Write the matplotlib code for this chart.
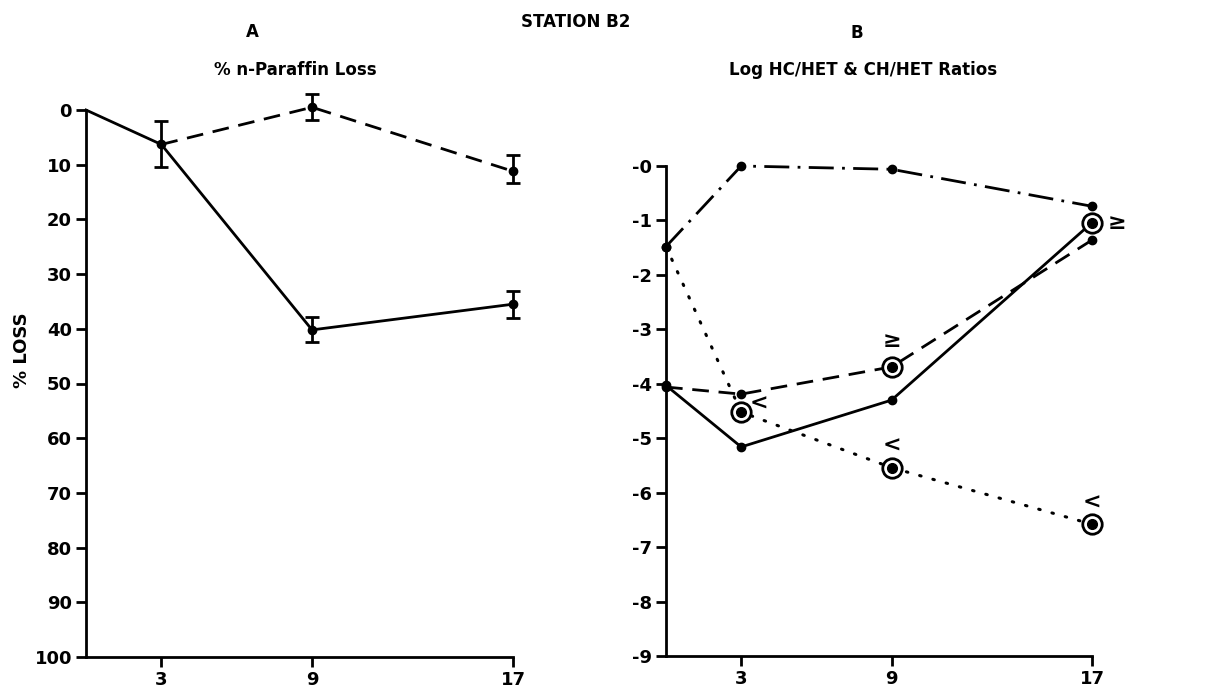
import matplotlib
matplotlib.use("Agg")
import matplotlib.pyplot as plt

# ---- Data ----
days = [0, 3, 9, 17]

# Panel A: % n-paraffin loss
a_solid_x = [0, 3, 9, 17]
a_solid_y = [0, 6.3, 40.2, 35.5]
a_solid_err_lo = [0, 0, 2.4, 2.5]
a_solid_err_hi = [0, 0, 2.2, 2.5]

a_dash_x = [3, 9, 17]
a_dash_y = [6.3, -0.5, 11.2]
a_dash_err_lo = [4.3, 2.5, 3.0]
a_dash_err_hi = [4.1, 2.3, 2.2]

# Panel B: log ratios
b_dashdot_x = [0, 3, 9, 17]
b_dashdot_y = [-1.48, 0.0, -0.06, -0.74]

b_dotted_x = [0, 3, 9, 17]
b_dotted_y = [-1.48, -4.52, -5.54, -6.58]

b_dashed_x = [0, 3, 9, 17]
b_dashed_y = [-4.06, -4.19, -3.69, -1.36]

b_solid_x = [0, 3, 9, 17]
b_solid_y = [-4.03, -5.16, -4.30, -1.04]

# circled points and their qualifiers
circ_x = [3, 9, 17, 9, 17]
circ_y = [-4.52, -5.54, -6.58, -3.69, -1.04]
qual_text = ["<", "<", "<", "≥", "≥"]
qual_dx = [0.7, 0.0, 0.0, 0.0, 1.0]
qual_dy = [0.15, 0.4, 0.4, 0.48, 0.0]

a_yticks = [0, 10, 20, 30, 40, 50, 60, 70, 80, 90, 100]
b_yticks = [0, -1, -2, -3, -4, -5, -6, -7, -8, -9]
b_yticklabels = ["-0", "-1", "-2", "-3", "-4", "-5", "-6", "-7", "-8", "-9"]
xticks = [3, 9, 17]

W, H = 1207, 694
fig = plt.figure(figsize=(W / 100, H / 100), dpi=100)
fs = 13
font = dict(family="DejaVu Sans", weight="bold")

def px_axes(x0, x1, ytop, ybot):
    return fig.add_axes([x0 / W, 1 - ybot / H, (x1 - x0) / W, (ybot - ytop) / H])

lw = 2.0
dash = (0, (6, 3.5))
dashdot = (0, (9, 3, 1, 3))

# ---------- Panel A ----------
ax1 = px_axes(86, 513, 110, 657)
ax1.plot(a_solid_x, a_solid_y, color="black", lw=lw, clip_on=False)
ax1.errorbar(a_solid_x[2:], a_solid_y[2:],
             yerr=[a_solid_err_lo[2:], a_solid_err_hi[2:]],
             fmt="o", ms=6, color="black", capsize=5, elinewidth=2, capthick=2, clip_on=False)
ax1.plot(a_dash_x, a_dash_y, color="black", lw=lw, linestyle=dash, clip_on=False)
ax1.errorbar(a_dash_x, a_dash_y, yerr=[a_dash_err_lo, a_dash_err_hi],
             fmt="o", ms=6, color="black", capsize=5, elinewidth=2, capthick=2, clip_on=False)
ax1.set_xlim(0, 17)
ax1.set_ylim(100, 0)
ax1.set_yticks(a_yticks)
ax1.set_yticklabels([str(v) for v in a_yticks], fontsize=fs, **font)
ax1.set_xticks(xticks)
ax1.set_xticklabels([str(v) for v in xticks], fontsize=fs, **font)

# ---------- Panel B ----------
ax2 = px_axes(666, 1092, 166, 656)
ax2.plot(b_dashdot_x, b_dashdot_y, color="black", lw=lw, linestyle=dashdot,
         marker="o", ms=6, clip_on=False)
ax2.plot(b_dotted_x, b_dotted_y, color="black", lw=2.2, linestyle=(0, (0.5, 4)),
         dash_capstyle="round", clip_on=False)
ax2.plot(b_dotted_x[:1], b_dotted_y[:1], "o", color="black", ms=6, clip_on=False)
ax2.plot(b_dashed_x, b_dashed_y, color="black", lw=lw, linestyle=dash, clip_on=False)
ax2.plot([b_dashed_x[0], b_dashed_x[1], b_dashed_x[3]],
         [b_dashed_y[0], b_dashed_y[1], b_dashed_y[3]], "o", color="black", ms=6, clip_on=False)
ax2.plot(b_solid_x, b_solid_y, color="black", lw=lw, clip_on=False)
ax2.plot(b_solid_x[:3], b_solid_y[:3], "o", color="black", ms=6, clip_on=False)
ax2.plot(circ_x, circ_y, "o", ms=14, mfc="white", mec="black", mew=2.0,
         linestyle="none", clip_on=False, zorder=5)
ax2.plot(circ_x, circ_y, "o", ms=7, color="black", linestyle="none", clip_on=False, zorder=6)
for x, y, t, dx, dy in zip(circ_x, circ_y, qual_text, qual_dx, qual_dy):
    ax2.text(x + dx, y + dy, t, ha="center", va="center", fontsize=16,
             clip_on=False, zorder=7, **font)
ax2.set_xlim(0, 17)
ax2.set_ylim(-9, 0)
ax2.set_yticks(b_yticks)
ax2.set_yticklabels(b_yticklabels, fontsize=fs, **font)
ax2.set_xticks(xticks)
ax2.set_xticklabels([str(v) for v in xticks], fontsize=fs, **font)

for ax in (ax1, ax2):
    for s in ("top", "right"):
        ax.spines[s].set_visible(False)
    for s in ("left", "bottom"):
        ax.spines[s].set_linewidth(2)
    ax.tick_params(axis="both", direction="out", width=2, length=7, pad=3)
    ax.patch.set_alpha(0)

# ---------- Titles ----------
fig.text(22 / W, 1 - 350 / H, "% LOSS", ha="center", va="center", rotation=90,
         fontsize=fs, **font)
fig.text(576 / W, 1 - 22 / H, "STATION B2", ha="center", va="center", fontsize=12, **font)
fig.text(252 / W, 1 - 32 / H, "A", ha="center", va="center", fontsize=12, **font)
fig.text(295 / W, 1 - 70 / H, "% n-Paraffin Loss", ha="center", va="center", fontsize=12, **font)
fig.text(857 / W, 1 - 33 / H, "B", ha="center", va="center", fontsize=12, **font)
fig.text(863 / W, 1 - 70 / H, "Log HC/HET & CH/HET Ratios", ha="center", va="center",
         fontsize=12, **font)

fig.savefig("out.png", dpi=100)
